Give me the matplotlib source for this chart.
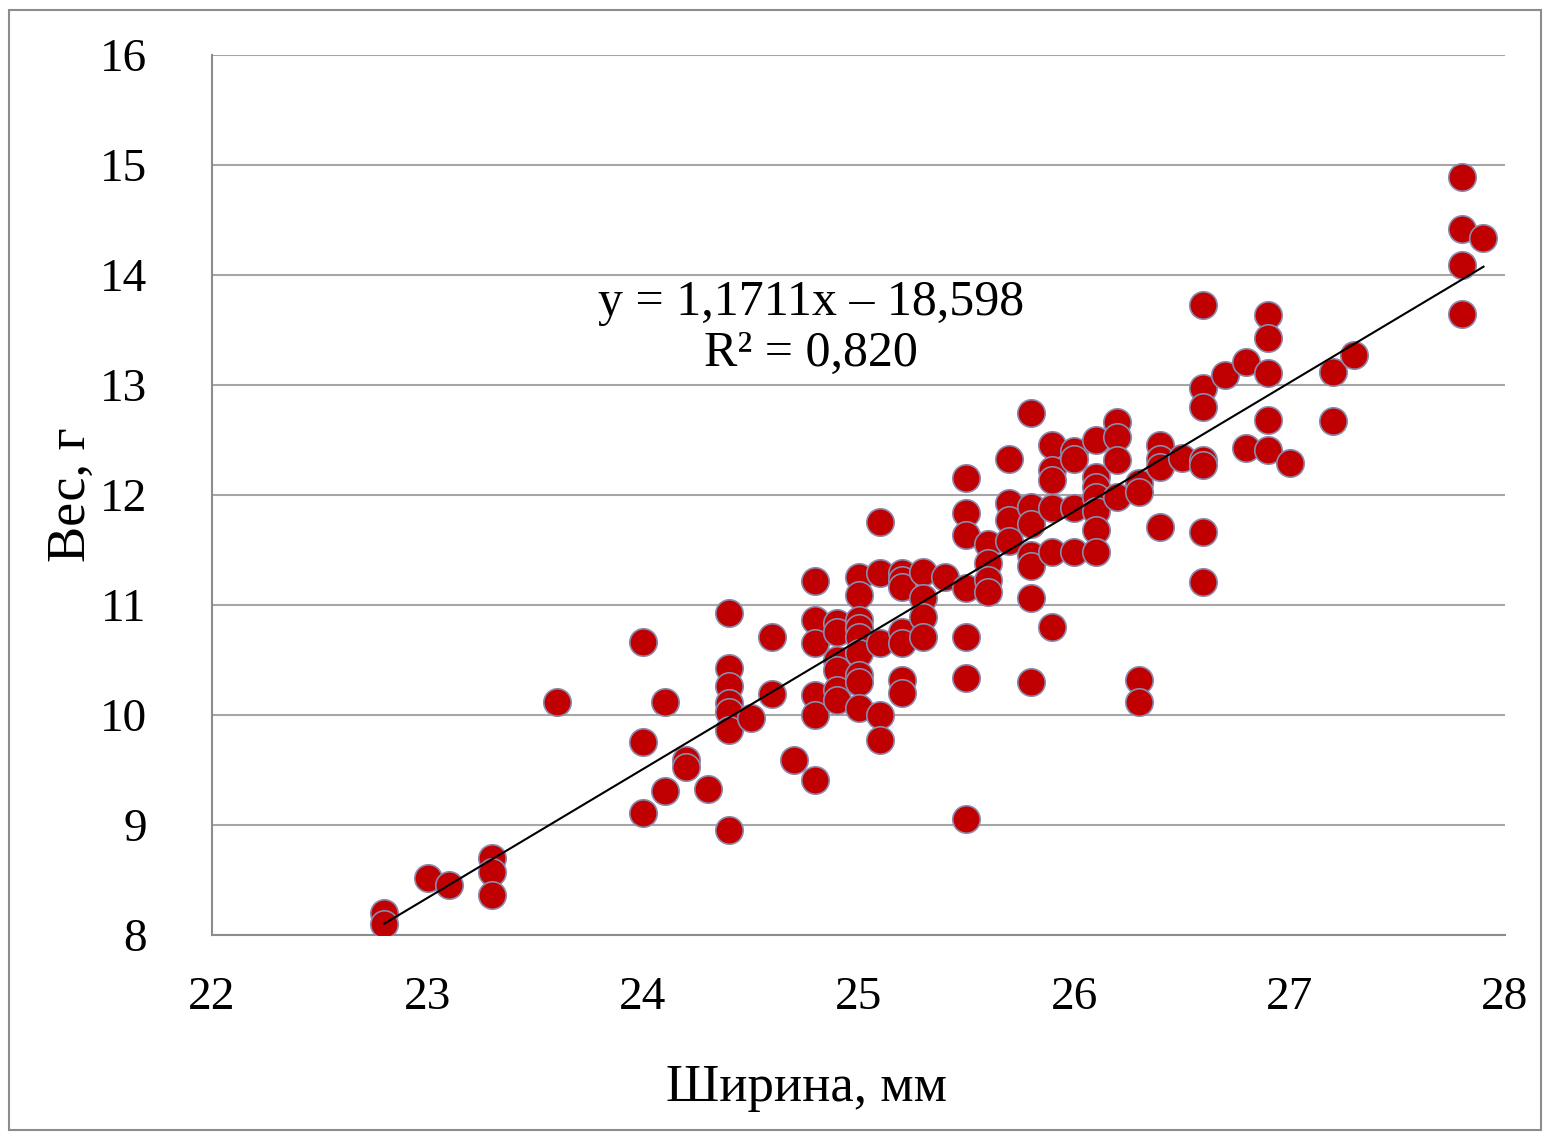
import matplotlib.pyplot as plt
from matplotlib.patches import Rectangle

# width, mm (one entry per point, grouped by column)
width = (
    [22.8] * 2 + [23.0, 23.1] + [23.3] * 3 + [23.6] + [24.0] * 3 + [24.1] * 2
    + [24.2] * 2 + [24.3] + [24.4] * 7 + [24.5] + [24.6] * 2 + [24.7]
    + [24.8] * 6 + [24.9] * 6 + [25.0] * 9 + [25.1] * 5 + [25.2] * 7
    + [25.3] * 4 + [25.4] + [25.5] * 7 + [25.6] * 4 + [25.7] * 4
    + [25.8] * 7 + [25.9] * 6 + [26.0] * 4 + [26.1] * 7 + [26.2] * 4
    + [26.3] * 4 + [26.4] * 4 + [26.5] + [26.6] * 7 + [26.7] + [26.8] * 2
    + [26.9] * 5 + [27.0] + [27.2] * 2 + [27.3] + [27.8] * 4 + [27.9]
)
# weight, g (same order as width)
weight = [
    8.2, 8.1,
    8.52, 8.45,
    8.70, 8.57, 8.36,
    10.12,
    10.66, 9.75, 9.11,
    10.12, 9.31,
    9.59, 9.53,
    9.33,
    10.93, 10.43, 10.26, 10.11, 10.03, 9.86, 8.95,
    9.97,
    10.71, 10.19,
    9.59,
    11.22, 10.86, 10.65, 10.18, 10.0, 9.41,
    10.84, 10.75, 10.5, 10.41, 10.23, 10.14,
    11.25, 11.09, 10.86, 10.79, 10.71, 10.56, 10.36, 10.3, 10.06,
    11.75, 11.29, 10.65, 10.0, 9.77,
    11.29, 11.23, 11.16, 10.75, 10.65, 10.32, 10.2,
    11.3, 11.06, 10.89, 10.71,
    11.25,
    12.15, 11.84, 11.64, 11.15, 10.71, 10.34, 9.05,
    11.55, 11.38, 11.23, 11.12,
    12.33, 11.93, 11.77, 11.58,
    12.75, 11.89, 11.74, 11.45, 11.35, 11.06, 10.3,
    12.45, 12.23, 12.14, 11.88, 11.48, 10.8,
    12.4, 12.33, 11.88, 11.48,
    12.5, 12.16, 12.07, 11.98, 11.85, 11.68, 11.48,
    12.66, 12.53, 12.32, 11.98,
    12.11, 12.03, 10.32, 10.12,
    12.45, 12.33, 12.25, 11.71,
    12.34,
    13.73, 12.97, 12.8, 12.32, 12.27, 11.66, 11.21,
    13.09,
    13.21, 12.43,
    13.64, 13.43, 13.11, 12.68, 12.41,
    12.29,
    13.12, 12.67,
    13.27,
    14.89, 14.42, 14.09, 13.65,
    14.34,
]

slope, intercept = 1.1711, -18.598
fit_x = [22.8, 27.9]
fit_y = [slope * v + intercept for v in fit_x]

plt.rcParams["font.family"] = ["Liberation Serif", "DejaVu Serif"]

fig = plt.figure(figsize=(15.5, 11.37), dpi=100)
ax = fig.add_axes([0.1368, 0.1777, 0.8342, 0.7739])

ax.scatter(width, weight, s=390, color="#C00000",
           edgecolor="#8A8AAE", linewidth=1.2, zorder=3)
ax.plot(fit_x, fit_y, color="black", linewidth=1.5, zorder=4)

ax.set_xlim(22, 28)
ax.set_ylim(8, 16)
ax.set_xticks(range(22, 29))
ax.set_yticks(range(8, 17))
ax.grid(axis="y", color="#A6A6A6", linewidth=1.5, zorder=0)
ax.tick_params(length=0, labelsize=34)
ax.tick_params(axis="x", pad=30)
ax.tick_params(axis="y", pad=47)

for side in ["top", "right"]:
    ax.spines[side].set_visible(False)
for side in ["left", "bottom"]:
    ax.spines[side].set_color("#8C8C8C")
    ax.spines[side].set_linewidth(1.5)

ax.set_xlabel("Ширина, мм", fontsize=38, labelpad=32, x=0.46)
ax.set_ylabel("Вес, г", fontsize=39, labelpad=2)

ax.text(24.78, 13.52, "y = 1,1711x – 18,598\nR² = 0,820", fontsize=36,
        ha="center", va="center", linespacing=1.12,
        bbox=dict(facecolor="white", edgecolor="none", pad=1), zorder=2)

fig.patches.append(Rectangle((0.006, 0.006), 0.988, 0.985, transform=fig.transFigure,
                             fill=False, edgecolor="#8C8C8C", linewidth=1.5))

fig.savefig("out.png")
